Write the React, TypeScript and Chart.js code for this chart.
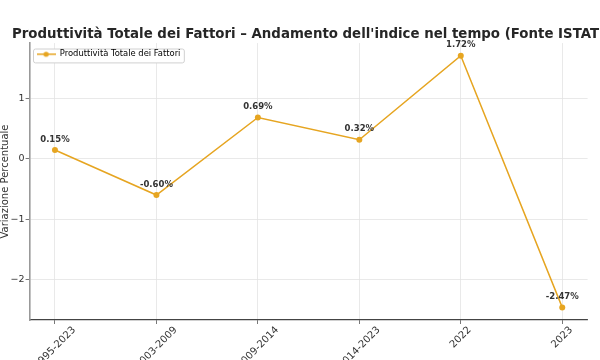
import React, { useEffect, useRef } from 'react';
import { Chart, registerables } from 'chart.js';

Chart.register(...registerables);

const categories = ['1995-2023', '2003-2009', '2009-2014', '2014-2023', '2022', '2023'];
const values = [0.15, -0.6, 0.69, 0.32, 1.72, -2.47];
const seriesName = 'Produttività Totale dei Fattori';
const titleText = "Produttività Totale dei Fattori – Andamento dell'indice nel tempo (Fonte ISTAT)";
const yTitle = 'Variazione Percentuale';
const yMin = -2.68;
const yMax = 1.93;
const xMin = -0.25;
const xMax = 5.25;

const FONT = '"DejaVu Sans", sans-serif';
const LINE = '#E6A521';
const TXT = '#333333';
const XFONT = 10;
const AXIS_W = 29.6;

function makeLegendIcon() {
  const c = document.createElement('canvas');
  c.width = 19;
  c.height = 8;
  const g = c.getContext('2d')!;
  g.strokeStyle = LINE;
  g.lineWidth = 1.5;
  g.beginPath();
  g.moveTo(0, 4);
  g.lineTo(19, 4);
  g.stroke();
  g.fillStyle = LINE;
  g.beginPath();
  g.arc(9.5, 4, 2.6, 0, Math.PI * 2);
  g.fill();
  return c;
}

const xLabelPlugin = {
  id: 'xLabels',
  afterDraw(chart: any) {
    const sc = chart.scales.x;
    const ctx = chart.ctx;
    ctx.save();
    ctx.font = `${XFONT}px ${FONT}`;
    ctx.fillStyle = TXT;
    ctx.textAlign = 'center';
    ctx.textBaseline = 'middle';
    categories.forEach((lab, i) => {
      const px = sc.getPixelForValue(i);
      const w = ctx.measureText(lab).width;
      const s = (w + XFONT) * Math.SQRT1_2;
      ctx.save();
      ctx.translate(px, sc.top + 5 + s / 2);
      ctx.rotate(-Math.PI / 4);
      ctx.fillText(lab, 0, 0);
      ctx.restore();
    });
    ctx.restore();
  },
};

const valueLabelPlugin = {
  id: 'valueLabels',
  afterDatasetsDraw(chart: any) {
    const meta = chart.getDatasetMeta(0);
    const ctx = chart.ctx;
    ctx.save();
    ctx.font = `bold 8.5px ${FONT}`;
    ctx.fillStyle = TXT;
    ctx.textAlign = 'center';
    ctx.textBaseline = 'middle';
    meta.data.forEach((pt: any, i: number) => {
      ctx.fillText(values[i].toFixed(2) + '%', pt.x, pt.y - 10.5);
    });
    ctx.restore();
  },
};

const legendFramePlugin = {
  id: 'legendFrame',
  afterLayout(chart: any) {
    const lg = chart.legend;
    if (!lg) return;
    const dy = chart.chartArea.top - lg.top;
    lg.top += dy;
    lg.bottom += dy;
  },
  beforeDatasetsDraw(chart: any) {
    const lg = chart.legend;
    if (!lg || !lg.legendHitBoxes || !lg.legendHitBoxes.length) return;
    const hb = lg.legendHitBoxes[0];
    const ctx = chart.ctx;
    const x = hb.left - 3.6;
    const y = hb.top - 1.5;
    const w = hb.width + 7;
    const h = hb.height + 5.5;
    ctx.save();
    ctx.beginPath();
    ctx.roundRect(x + 0.5, y + 0.5, w, h, 2);
    ctx.fillStyle = '#ffffff';
    ctx.fill();
    ctx.strokeStyle = '#d0d0d0';
    ctx.lineWidth = 1;
    ctx.stroke();
    ctx.restore();
    lg.draw();
  },
};

export default function App() {
  const ref = useRef<HTMLCanvasElement>(null);
  useEffect(() => {
    if (!ref.current) return;
    const icon = makeLegendIcon();
    const chart = new Chart(ref.current, {
      type: 'line',
      data: {
        datasets: [
          {
            label: seriesName,
            data: categories.map((_, i) => ({ x: i, y: values[i] })),
            borderColor: LINE,
            backgroundColor: LINE,
            borderWidth: 1.5,
            pointRadius: 3,
            pointBorderWidth: 0,
            pointBackgroundColor: LINE,
            tension: 0,
          },
        ],
      },
      options: {
        responsive: false,
        animation: false,
        devicePixelRatio: 1,
        layout: { padding: { left: 0, right: 22.8, top: 0, bottom: 0 } },
        plugins: {
          title: {
            display: true,
            text: titleText,
            color: '#262626',
            font: { family: FONT, size: 13.35, weight: 'bold', lineHeight: 1.2 },
            padding: { top: 26.5, bottom: 0.5 },
          },
          legend: {
            position: 'chartArea',
            align: 'start',
            labels: {
              font: { family: FONT, size: 8.4 },
              color: TXT,
              usePointStyle: true,
              pointStyleWidth: 19,
              padding: 7,
              generateLabels: () => [
                {
                  text: seriesName,
                  pointStyle: icon as any,
                  fillStyle: LINE,
                  strokeStyle: LINE,
                  lineWidth: 0,
                  datasetIndex: 0,
                  hidden: false,
                },
              ],
            },
          },
          tooltip: { enabled: false },
        },
        scales: {
          x: {
            type: 'linear',
            min: xMin,
            max: xMax,
            ticks: { display: false, stepSize: 1, includeBounds: false },
            grid: { color: '#e3e3e3', lineWidth: 0.8, drawTicks: true, tickLength: 4, tickColor: '#555' },
            border: { display: true, color: '#444', width: 1.2 },
            afterFit: (s: any) => {
              s.height = 40;
              s.paddingLeft = 0;
              s.paddingRight = 0;
            },
          },
          y: {
            type: 'linear',
            position: 'left',
            min: yMin,
            max: yMax,
            ticks: {
              stepSize: 1,
              includeBounds: false,
              padding: 1,
              color: TXT,
              font: { family: FONT, size: 9.5 },
              callback: (v: any) => String(v).replace('-', '\u2212'),
            },
            grid: { color: '#e3e3e3', lineWidth: 0.8, drawTicks: true, tickLength: 4, tickColor: '#555' },
            border: { display: true, color: '#999', width: 1.6 },
            title: {
              display: true,
              text: yTitle,
              color: TXT,
              font: { family: FONT, size: 10, lineHeight: 1 },
              padding: { top: 0.5, bottom: 0 },
            },
            afterFit: (s: any) => {
              s.width = AXIS_W;
              s.paddingTop = 0;
              s.paddingBottom = 0;
            },
          },
          y2: {
            type: 'linear',
            position: 'right',
            display: true,
            ticks: { display: false },
            grid: { display: false, drawTicks: false },
            border: { display: false },
            afterFit: (s: any) => {
              s.width = AXIS_W;
              s.paddingTop = 0;
              s.paddingBottom = 0;
            },
          },
        },
      },
      plugins: [legendFramePlugin, valueLabelPlugin, xLabelPlugin],
    } as any);
    return () => chart.destroy();
  }, []);

  return (
    <div
      style={{
        position: 'fixed',
        left: 0,
        top: 0,
        width: 600,
        height: 360,
        overflow: 'hidden',
        background: '#fff',
      }}
    >
      <canvas ref={ref} width={640} height={360} style={{ display: 'block', width: 640, height: 360 }} />
    </div>
  );
}
